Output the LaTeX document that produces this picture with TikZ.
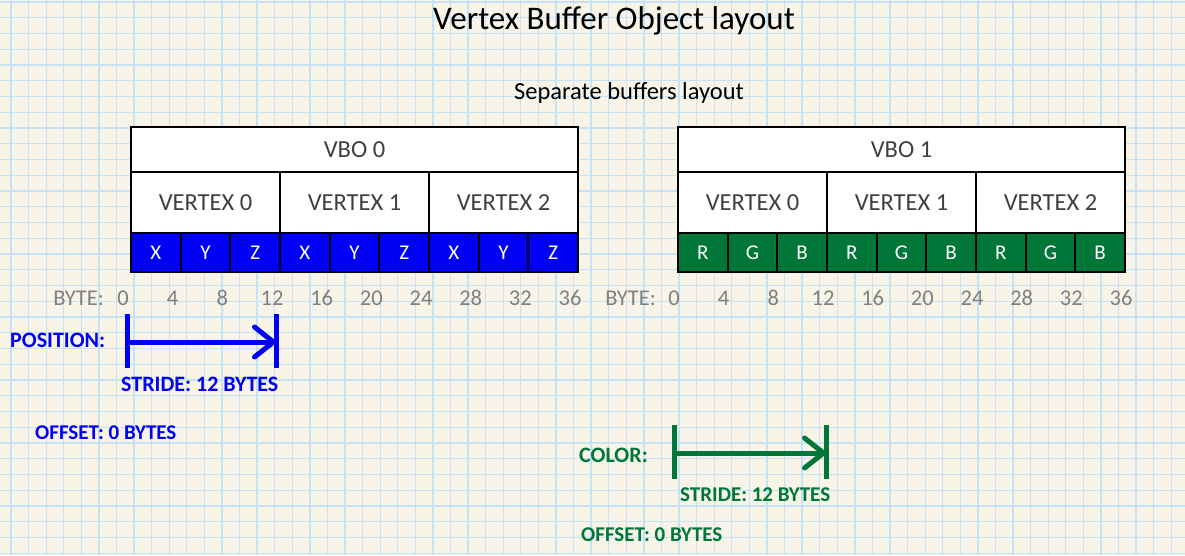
\documentclass[tikz,border=0pt]{standalone}
\usepackage{fontspec}
\setmainfont{Carlito}
\usetikzlibrary{arrows.meta}

\definecolor{paper}{RGB}{248,244,232}
\definecolor{gridblue}{RGB}{197,226,246}
\definecolor{posblue}{RGB}{0,0,245}
\definecolor{colgreen}{RGB}{0,118,56}
\definecolor{bytegray}{RGB}{128,128,128}
\definecolor{textgray}{RGB}{64,64,64}

\begin{document}
\begin{tikzpicture}[x=1pt,y=-1pt,
    box/.style={draw=black, line width=1.8pt, fill=white, outer sep=0pt,
      inner sep=0pt, anchor=north west, text=textgray,
      font=\fontsize{24.5}{28}\selectfont},
    hdr/.style={box, minimum width=447pt, minimum height=45pt},
    vtx/.style={box, minimum width=149pt, minimum height=61pt},
    comp/.style={box, minimum width=49.667pt, minimum height=39pt,
      text=white, font=\fontsize{21}{24}\selectfont},
    byte/.style={text=bytegray, inner sep=0pt, font=\fontsize{22.5}{26}\selectfont},
    lbl/.style={inner sep=0pt, font=\bfseries\fontsize{22}{26}\selectfont},
    offlbl/.style={lbl, font=\bfseries\fontsize{21}{25}\selectfont},
    tick/.style={line width=5pt},
    stride/.style={line width=5pt, -{Straight Barb[length=19pt,width=30pt,round]}}
  ]
  \useasboundingbox (0,0) rectangle (1185,555);
  % paper
  \fill[paper] (0,0) rectangle (1185,555);
  \foreach \k in {0,...,66}
    \draw[gridblue, line width=1.3pt] ({11+17.58*\k},0) -- ++(0,555);
  \foreach \k in {0,...,35}
    \draw[gridblue, line width=1.3pt] (0,{2+15.75*\k}) -- ++(1185,0);

  \node[anchor=base, font=\fontsize{33}{40}\selectfont] (title) at (614,29)
    {Vertex Buffer Object layout};
  \node[anchor=base, font=\fontsize{24.5}{29}\selectfont] (sub) at (629,99)
    {Separate buffers layout};

  % VBO 0
  \node[hdr] (vbo0) at (131,127) {VBO 0};
  \foreach \i in {0,1,2}
    \node[vtx] (p-v\i) at ({131+149*\i},172) {VERTEX \i};
  \foreach \c [count=\k from 0] in {X,Y,Z,X,Y,Z,X,Y,Z}
    \node[comp, fill=posblue] (p-c\k) at ({131+49.667*\k},233) {\c};

  % VBO 1
  \node[hdr] (vbo1) at (678,127) {VBO 1};
  \foreach \i in {0,1,2}
    \node[vtx] (c-v\i) at ({678+149*\i},172) {VERTEX \i};
  \foreach \c [count=\k from 0] in {R,G,B,R,G,B,R,G,B}
    \node[comp, fill=colgreen] (c-c\k) at ({678+49.667*\k},233) {\c};

  % byte offsets
  \node[byte, anchor=east] (p-byte) at (104,298) {BYTE:};
  \foreach \b in {0,4,...,36}
    \node[byte] (pb\b) at ({123+49.667*\b/4},298) {\b};
  \node[byte, anchor=east] (c-byte) at (656,298) {BYTE:};
  \foreach \b in {0,4,...,36}
    \node[byte] (cb\b) at ({674+49.667*\b/4},298) {\b};

  % position attribute
  \coordinate (pa) at (127,342);
  \coordinate (pz) at (276,342);
  \draw[posblue, tick] ([yshift=28pt]pa) -- ([yshift=-26pt]pa);
  \draw[posblue, tick] ([yshift=28pt]pz) -- ([yshift=-26pt]pz);
  \draw[posblue, stride] (pa) -- (pz);
  \node[lbl, text=posblue, anchor=west] (p-name) at (10,340) {POSITION:};
  \node[lbl, text=posblue, anchor=west] (p-stride) at (121,384) {STRIDE: 12 BYTES};
  \node[offlbl, text=posblue, anchor=west] (p-off) at (35,433) {OFFSET: 0 BYTES};

  % color attribute
  \coordinate (ca) at (674,453);
  \coordinate (cz) at (826,453);
  \draw[colgreen, tick] ([yshift=28pt]ca) -- ([yshift=-26pt]ca);
  \draw[colgreen, tick] ([yshift=28pt]cz) -- ([yshift=-26pt]cz);
  \draw[colgreen, stride] (ca) -- (cz);
  \node[lbl, text=colgreen, anchor=west] (c-name) at (579,455) {COLOR:};
  \node[offlbl, text=colgreen, anchor=west] (c-stride) at (680,495) {STRIDE: 12 BYTES};
  \node[offlbl, text=colgreen, anchor=west] (c-off) at (581,535) {OFFSET: 0 BYTES};
\end{tikzpicture}
\end{document}
